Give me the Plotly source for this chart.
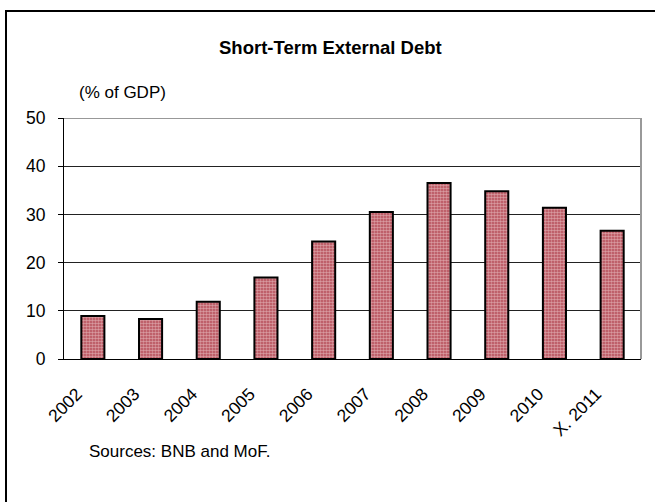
import plotly.graph_objects as go

categories = ["2002", "2003", "2004", "2005", "2006", "2007", "2008", "2009", "2010", "X. 2011"]
values = [8.9, 8.3, 11.9, 16.9, 24.4, 30.5, 36.5, 34.8, 31.4, 26.6]
y_ticks = [0, 10, 20, 30, 40, 50]

W, H = 655, 502
L, R, T, B = 64, 14, 118, 143
pw, ph = W - L - R, H - T - B

def px_x(x):
    return (x - L) / pw

def px_y(y):
    return (H - B - y) / ph

font = "Liberation Sans, Arial, sans-serif"

fig = go.Figure()
fig.add_trace(go.Bar(
    x=categories, y=values, width=0.4,
    marker=dict(color="#b44a55", line=dict(color="black", width=2),
                pattern=dict(shape=".", fgcolor="#fbeaea", size=3, solidity=0.55)),
))

fig.update_layout(
    width=W, height=H,
    margin=dict(l=L, r=R, t=T, b=B),
    paper_bgcolor="white", plot_bgcolor="white",
    showlegend=False,
    font=dict(family=font, size=17.5, color="black"),
    bargap=0.6,
)
fig.update_yaxes(range=[0, 50], tickvals=y_ticks, showgrid=True, gridcolor="#222222", gridwidth=1,
                 showline=True, linecolor="black", linewidth=1, ticks="outside", ticklen=5,
                 tickcolor="black", tickfont=dict(size=17.5), ticklabelstandoff=9,
                 zeroline=False, fixedrange=True)
fig.update_xaxes(showline=True, linecolor="black", linewidth=1, tickangle=-45, tickfont=dict(size=17.5),
                 ticks="", ticklabelshift=-16, ticklabelstandoff=17, fixedrange=True)

# gridline at top of range (50)
fig.add_shape(type="line", xref="paper", yref="y", x0=0, x1=1, y0=50, y1=50,
              line=dict(color="#333333", width=1))
# right border of plot area (light grey)
fig.add_shape(type="line", xref="paper", yref="paper", x0=1, x1=1, y0=0, y1=1,
              line=dict(color="#999999", width=2))
# outer frame
fig.add_shape(type="rect", xref="paper", yref="paper",
              x0=px_x(6), y0=px_y(H + 10), x1=px_x(W + 10), y1=px_y(11),
              line=dict(color="black", width=2), layer="above")

fig.add_annotation(text="<b>Short-Term External Debt</b>", xref="paper", yref="paper",
                   x=px_x(330), y=px_y(48), showarrow=False, font=dict(size=18.5),
                   xanchor="center", yanchor="middle")
fig.add_annotation(text="(% of GDP)", xref="paper", yref="paper",
                   x=px_x(77), y=px_y(93), showarrow=False, font=dict(size=17),
                   xanchor="left", yanchor="middle")
fig.add_annotation(text="Sources: BNB and MoF.", xref="paper", yref="paper",
                   x=px_x(87), y=px_y(451), showarrow=False, font=dict(size=17),
                   xanchor="left", yanchor="middle")

fig.write_html("out.html", config={"displayModeBar": False},
               post_script="document.body.style.margin='0';")
